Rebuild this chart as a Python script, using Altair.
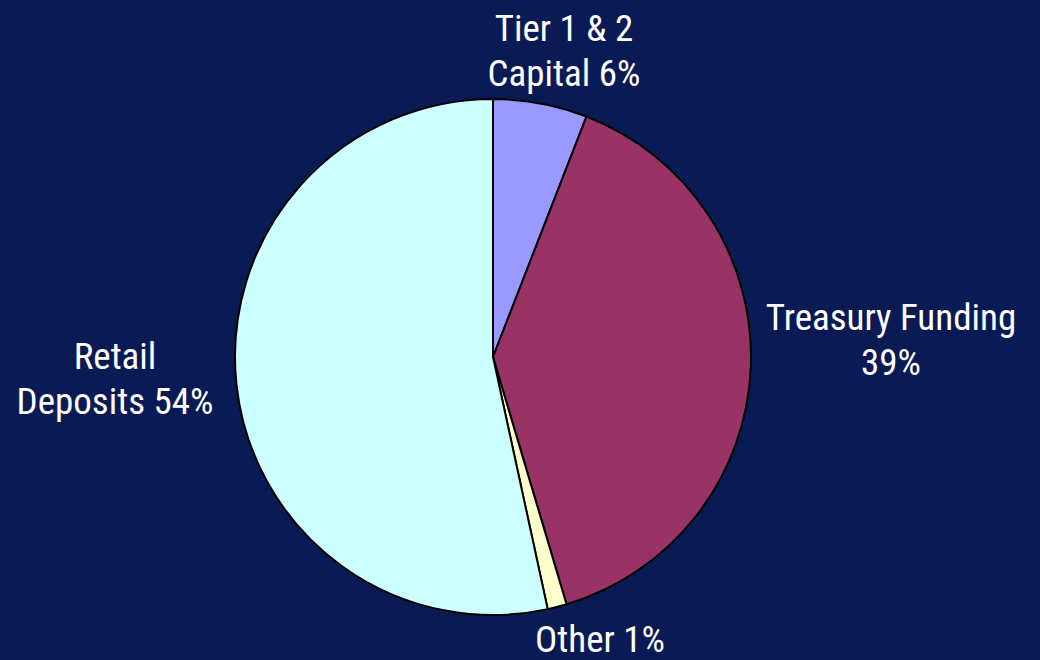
import altair as alt
import pandas as pd

categories = ["Tier 1 & 2 Capital", "Treasury Funding", "Other", "Retail Deposits"]
values = [5.9, 39.5, 1.2, 53.4]
colors = ["#9999FF", "#993366", "#FFFFCC", "#CCFFFF"]

label_lines = [["Tier 1 & 2", "Capital 6%"], ["Treasury Funding", "39%"], ["Other 1%"], ["Retail", "Deposits 54%"]]

df = pd.DataFrame({"cat": categories, "val": values, "order": list(range(len(values)))})

W, H = 1040, 660
CX, CY, R = 493, 357, 258

pie = alt.Chart(df).mark_arc(radius=R, stroke="#000000", strokeWidth=2).encode(
    theta=alt.Theta("val:Q", stack=True),
    order=alt.Order("order:Q"),
    color=alt.Color("cat:N", scale=alt.Scale(domain=categories, range=colors), legend=None),
    x=alt.value(CX),
    y=alt.value(CY),
)

label_pos = [(564, 30), (891, 319), (600, 641), (115, 358)]
font = "Liberation Sans Narrow, Arial Narrow, Roboto Condensed, Liberation Sans, sans-serif"

layers = [pie]
for lines, (lx, ly) in zip(label_lines, label_pos):
    ldf = pd.DataFrame({"t": [lines]})
    layers.append(
        alt.Chart(ldf).mark_text(
            color="white", fontSize=37, font=font, align="center", baseline="middle", lineHeight=45
        ).encode(text="t", x=alt.value(lx), y=alt.value(ly))
    )

chart = alt.layer(*layers).properties(
    width=W, height=H, padding=0, autosize=alt.AutoSizeParams(type="none"), background="#0A1A55"
).configure_view(stroke=None)

chart.save("out.html", embed_options={"renderer": "svg", "actions": False})
